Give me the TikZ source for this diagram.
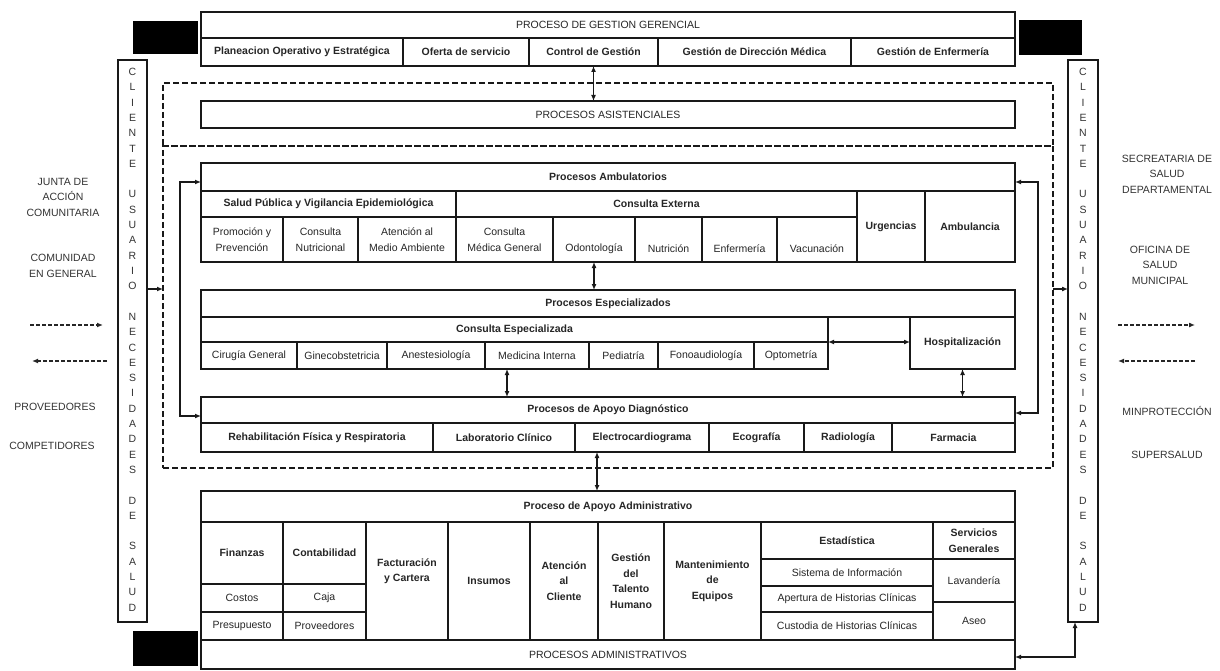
\documentclass[tikz,border=0pt]{standalone}
\usepackage{fontspec}
\setmainfont{Liberation Sans}
\usetikzlibrary{arrows.meta}

\newcommand{\mkcell}[7][]{\node[box,#1,minimum width={#5-#3},minimum height={#6-#4}] (#2) at ({(#3+#5)/2},{(#4+#6)/2}) {#7};}

\tikzset{
  box/.style={draw=black!90, line width=1.3pt, fill=white, inner sep=1pt, outer sep=0pt,
    align=center, text=black!85, font=\fontsize{10.5}{15.5}\selectfont},
  bold/.style={font=\fontsize{10.5}{15.5}\selectfont\bfseries},
  dashbox/.style={fill=none, dash pattern=on 6pt off 3pt},
  blk/.style={fill=black, draw=black},
  tip/.tip={Latex[length=6pt,width=5pt]},
  darr/.style={tip-tip, line width=1.2pt, draw=black!90},
  arr/.style={-tip, line width=1.2pt, draw=black!90},
  sarr/.style={-tip, line width=1.2pt, draw=black!85, dash pattern=on 4pt off 2pt},
  side/.style={align=center, text=black!80, font=\fontsize{10.5}{15.5}\selectfont, inner sep=0pt},
  vlet/.style={text=black!80, font=\fontsize{10.5}{12}\selectfont, inner sep=0pt},
}

\begin{document}
\begin{tikzpicture}[x=1pt,y=-1pt]
\useasboundingbox (0,0) rectangle (1220,671);
\fill[white] (0,0) rectangle (1220,671);

% dashed enclosures
\mkcell[dashbox]{dtop}{163}{83}{1053}{146}{}
\mkcell[dashbox]{dbot}{163}{146}{1053}{468}{}

% black boxes
\mkcell[blk]{bl1}{134}{22}{197}{53}{}
\mkcell[blk]{br1}{1020}{21}{1081}{54}{}
\mkcell[blk]{bl2}{134}{632}{197}{665}{}

% side columns
\mkcell{lcol}{118}{60}{147}{622}{}
\mkcell{rcol}{1068}{60}{1098}{622}{}
\foreach \ch [count=\i from 0] in {C,L,I,E,N,T,E,{},U,S,U,A,R,I,O,{},N,E,C,E,S,I,D,A,D,E,S,{},D,E,{},S,A,L,U,D} {
  \node[vlet] (lv\i) at (132.5,{72+15.3*\i}) {\ch};
  \node[vlet] (rv\i) at (1083,{72+15.3*\i}) {\ch};
}

% Gestion gerencial
\mkcell{ggh}{201}{12}{1015}{38}{PROCESO DE GESTION GERENCIAL}
\mkcell[bold]{plan}{201}{38}{403}{66}{Planeacion Operativo y Estratégica}
\mkcell[bold]{ofer}{403}{38}{529}{66}{Oferta de servicio}
\mkcell[bold]{ctrl}{529}{38}{658}{66}{Control de Gestión}
\mkcell[bold]{dirm}{658}{38}{851}{66}{Gestión de Dirección Médica}
\mkcell[bold]{genf}{851}{38}{1015}{66}{Gestión de Enfermería}

% asistenciales
\mkcell{asis}{201}{101}{1015}{128}{PROCESOS ASISTENCIALES}

% ambulatorios
\mkcell[bold]{ambh}{201}{163}{1015}{191}{Procesos Ambulatorios}
\mkcell[bold]{salud}{201}{191}{456}{217}{Salud Pública y Vigilancia Epidemiológica}
\mkcell[bold]{cext}{456}{191}{857}{217}{Consulta Externa}
\mkcell{promo}{201}{217}{283}{262}{Promoción y\\Prevención}
\mkcell{cnut}{283}{217}{358}{262}{Consulta\\Nutricional}
\mkcell{aten}{358}{217}{456}{262}{Atención al\\Medio Ambiente}
\mkcell{cmg}{456}{217}{553}{262}{Consulta\\Médica General}
\mkcell{odo}{553}{217}{635}{262}{\strut\\Odontología}
\mkcell{nut}{635}{217}{702}{262}{\strut\\Nutrición}
\mkcell{enfm}{702}{217}{777}{262}{\strut\\Enfermería}
\mkcell{vac}{777}{217}{857}{262}{\strut\\Vacunación}
\mkcell[bold]{urg}{857}{191}{925}{262}{Urgencias}
\mkcell[bold]{ambu}{925}{191}{1015}{262}{Ambulancia}

% especializados
\mkcell[bold]{esph}{201}{290}{1015}{317}{Procesos Especializados}
\mkcell[bold]{cesp}{201}{317}{828}{342}{Consulta Especializada}
\mkcell{cir}{201}{342}{297}{369}{Cirugía General}
\mkcell{gin}{297}{342}{387}{369}{Ginecobstetricia}
\mkcell{ane}{387}{342}{485}{369}{Anestesiología}
\mkcell{med}{485}{342}{589}{369}{Medicina Interna}
\mkcell{ped}{589}{342}{658}{369}{Pediatría}
\mkcell{fon}{658}{342}{754}{369}{Fonoaudiología}
\mkcell{opt}{754}{342}{828}{369}{Optometría}
\mkcell[bold]{hosp}{910}{317}{1015}{369}{Hospitalización}

% apoyo diagnostico
\mkcell[bold]{apdh}{201}{397}{1015}{423}{Procesos de Apoyo Diagnóstico}
\mkcell[bold]{reh}{201}{423}{433}{452}{Rehabilitación Física y Respiratoria}
\mkcell[bold]{lab}{433}{423}{575}{452}{Laboratorio Clínico}
\mkcell[bold]{ecg}{575}{423}{709}{452}{Electrocardiograma}
\mkcell[bold]{eco}{709}{423}{804}{452}{Ecografía}
\mkcell[bold]{rad}{804}{423}{892}{452}{Radiología}
\mkcell[bold]{far}{892}{423}{1015}{452}{Farmacia}

% apoyo administrativo
\mkcell[bold]{admh}{201}{491}{1015}{522}{Proceso de Apoyo Administrativo}
\mkcell[bold]{fin}{201}{522}{283}{584}{Finanzas}
\mkcell{cost}{201}{584}{283}{612}{Costos}
\mkcell{pres}{201}{612}{283}{640}{Presupuesto}
\mkcell[bold]{cont}{283}{522}{366}{584}{Contabilidad}
\mkcell{caja}{283}{584}{366}{612}{Caja}
\mkcell{prov}{283}{612}{366}{640}{Proveedores}
\mkcell[bold]{fact}{366}{522}{448}{640}{Facturación\\y Cartera\\[6pt]}
\mkcell[bold]{ins}{448}{522}{530}{640}{Insumos}
\mkcell[bold]{atc}{530}{522}{598}{640}{Atención\\al\\Cliente}
\mkcell[bold]{gth}{598}{522}{664}{640}{Gestión\\del\\Talento\\Humano}
\mkcell[bold]{mant}{664}{522}{761}{640}{Mantenimiento\\de\\Equipos}
\mkcell[bold]{estad}{761}{522}{933}{559}{Estadística}
\mkcell{sis}{761}{559}{933}{586}{Sistema de Información}
\mkcell{ape}{761}{586}{933}{612}{Apertura de Historias Clínicas}
\mkcell{cus}{761}{612}{933}{640}{Custodia de Historias Clínicas}
\mkcell[bold]{serv}{933}{522}{1015}{559}{Servicios\\Generales}
\mkcell{lav}{933}{559}{1015}{602}{Lavandería}
\mkcell{aseo}{933}{602}{1015}{640}{Aseo}
\mkcell{padm}{201}{640}{1015}{669}{PROCESOS ADMINISTRATIVOS}

% side labels
\node[side] (jac) at (63,197) {JUNTA DE\\ACCIÓN\\COMUNITARIA};
\node[side] (comg) at (63,266) {COMUNIDAD\\EN GENERAL};
\node[side] (prv) at (55,407) {PROVEEDORES};
\node[side] (cmp) at (52,446) {COMPETIDORES};
\node[side] (ssd) at (1167,174) {SECREATARIA DE\\SALUD\\DEPARTAMENTAL};
\node[side] (osm) at (1160,265) {OFICINA DE\\SALUD\\MUNICIPAL};
\node[side] (minp) at (1167,411) {MINPROTECCIÓN};
\node[side] (sups) at (1167,455) {SUPERSALUD};

% connectors
\draw[darr] (ctrl.south) -- (ctrl.south |- asis.north);
\draw[darr] (odo.south) -- (odo.south |- esph.north);
\draw[darr] ([xshift=-30pt]med.south) -- ([xshift=-30pt]med.south |- apdh.north);
\draw[darr] (hosp.south) -- (hosp.south |- apdh.north);
\draw[darr] ([xshift=-45pt]ecg.south) -- ([xshift=-45pt]ecg.south |- admh.north);
\draw[darr] (cesp.south east) -- (cesp.south east -| hosp.west);

\coordinate (lx) at (180,0);
\coordinate (rx) at (1038,0);
\coordinate (ly) at (0,289);
\draw[darr] ([yshift=-5pt]ambh.west) -- ([yshift=-5pt]ambh.west -| lx) -- ([yshift=-6pt]apdh.west -| lx) -- ([yshift=-6pt]apdh.west);
\draw[darr] ([yshift=-5pt]ambh.east) -- ([yshift=-5pt]ambh.east -| rx) -- ([yshift=-3pt]apdh.east -| rx) -- ([yshift=-3pt]apdh.east);
\draw[arr] (lcol.east |- ly) -- (dbot.west |- ly);
\draw[arr] (dbot.east |- ly) -- (rcol.west |- ly);
\draw[darr] ([yshift=-2.5pt]padm.east) -| ([xshift=-8pt]rcol.south);

\coordinate (la1) at (30,325);  \coordinate (la2) at (103,325);
\coordinate (lb1) at (107,361); \coordinate (lb2) at (32,361);
\coordinate (ra1) at (1118,325); \coordinate (ra2) at (1195,325);
\coordinate (rb1) at (1195,361); \coordinate (rb2) at (1118,361);
\draw[sarr] (la1) -- (la2);
\draw[sarr] (lb1) -- (lb2);
\draw[sarr] (ra1) -- (ra2);
\draw[sarr] (rb1) -- (rb2);
\end{tikzpicture}
\end{document}
